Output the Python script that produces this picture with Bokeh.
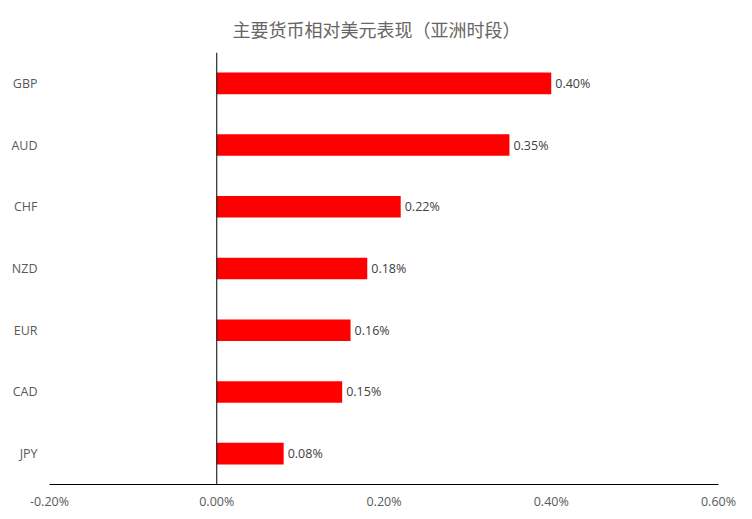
from bokeh.plotting import figure
from bokeh.models import Range1d, FactorRange, FixedTicker, PrintfTickFormatter, Span, ColumnDataSource
from bokeh.core.properties import value
from bokeh.embed import file_html
from bokeh.resources import INLINE

title_text = "主要货币相对美元表现（亚洲时段）"
currencies = ["GBP", "AUD", "CHF", "NZD", "EUR", "CAD", "JPY"]
changes = [0.40, 0.35, 0.22, 0.18, 0.16, 0.15, 0.08]
labels = ["0.40%", "0.35%", "0.22%", "0.18%", "0.16%", "0.15%", "0.08%"]
x_ticks = [-0.2, 0.0, 0.2, 0.4, 0.6]

src = ColumnDataSource(dict(cur=currencies, val=changes, lab=labels))

p = figure(width=752, height=519, output_backend="svg", toolbar_location=None,
           x_range=Range1d(-0.2, 0.6), y_range=FactorRange(*currencies[::-1]),
           min_border_left=49, min_border_right=34, min_border_top=52, min_border_bottom=35)

p.title.text = title_text
p.title.align = "left"
p.title.offset = 183
p.title.standoff = 22
p.title.text_font = "Noto Sans CJK SC"
p.title.text_font_size = "18px"
p.title.text_font_style = "normal"
p.title.text_color = "#666666"

p.hbar(y="cur", right="val", left=0, height=0.35, source=src, fill_color="#FF0000", line_color=None)
p.text(x="val", y="cur", text="lab", source=src, x_offset=4, text_baseline="middle", text_align="left",
       text_font=value("Open Sans"), text_font_size="12.5px", text_color="#404040")

p.add_layout(Span(location=0, dimension="height", line_color="black", line_width=1))

p.xaxis.ticker = FixedTicker(ticks=x_ticks)
p.xaxis.formatter = PrintfTickFormatter(format="%.2f%%")
p.xaxis.major_tick_line_color = None
p.xaxis.minor_tick_line_color = None
p.xaxis.major_tick_out = 0
p.xaxis.minor_tick_out = 0
p.xaxis.axis_line_color = "black"
p.xaxis.major_label_text_font = "Open Sans"
p.xaxis.major_label_text_font_size = "12.5px"
p.xaxis.major_label_text_color = "#595959"
p.xaxis.major_label_standoff = 8

p.yaxis.axis_line_color = None
p.yaxis.major_tick_line_color = None
p.yaxis.minor_tick_line_color = None
p.yaxis.major_tick_out = 0
p.yaxis.minor_tick_out = 0
p.yaxis.major_label_text_font = "Open Sans"
p.yaxis.major_label_text_font_size = "12.5px"
p.yaxis.major_label_text_color = "#595959"
p.yaxis.major_label_standoff = 12

p.xgrid.grid_line_color = None
p.ygrid.grid_line_color = None
p.outline_line_color = None

open("out.html", "w").write(file_html(p, INLINE))
